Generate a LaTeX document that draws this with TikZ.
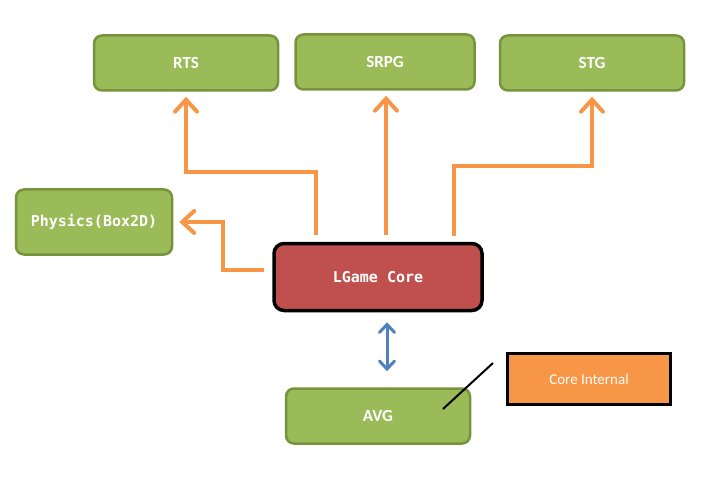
\documentclass[tikz,border=0pt]{standalone}
\usepackage{fontspec}
\setmainfont{Carlito}
\newfontfamily\codefont{DejaVu Sans Mono}
\usetikzlibrary{arrows.meta, calc}
\definecolor{boxgreen}{HTML}{9BBB59}
\definecolor{edgegreen}{HTML}{77933C}
\definecolor{corered}{HTML}{C0504D}
\definecolor{flowor}{HTML}{F79646}
\definecolor{linkblue}{HTML}{4F81BD}

\begin{document}
\begin{tikzpicture}[x=1pt, y=-1pt,
  genre/.style={draw=edgegreen, line width=2.5pt, fill=boxgreen, rounded corners=8pt,
    minimum width=184pt, minimum height=55pt, text=white, font=\bfseries\fontsize{17}{19}\selectfont},
  codebox/.style={genre, font=\codefont\bfseries\fontsize{15}{17}\selectfont},
  corebox/.style={draw=black, line width=3.5pt, fill=corered, rounded corners=10pt,
    minimum width=208pt, minimum height=67pt, text=white, font=\codefont\bfseries\fontsize{15}{17}\selectfont},
  notebox/.style={draw=black, line width=2.5pt, fill=flowor, minimum width=163pt,
    minimum height=51pt, text=white, font=\fontsize{15}{17}\selectfont},
  flow/.style={draw=flowor, line width=4pt, line join=miter,
    -{Straight Barb[length=12pt,width=22pt,line cap=round]}},
  link/.style={draw=linkblue, line width=3pt,
    {Straight Barb[length=8pt,width=15pt,line cap=round]}-{Straight Barb[length=8pt,width=15pt,line cap=round]}}
]
\useasboundingbox (0,0) rectangle (702,484);

\node[genre] (rts) at (186,63) {RTS};
\node[genre, minimum width=179pt] (srpg) at (385,62) {SRPG};
\node[genre] (stg) at (592,63) {STG};
\node[codebox, minimum width=156pt, minimum height=65pt] (phys) at (94,222) {Physics(Box2D)};
\node[corebox] (core) at (378,277) {LGame Core};
\node[genre] (avg) at (378,416) {AVG};
\node[notebox] (ci) at (589,379) {Core Internal};

% arrows out of the core
\draw[flow, shorten <=7pt, shorten >=5pt] ([xshift=-62pt]core.north) -- ++(0,-70) -| (rts.south);
\draw[flow, shorten <=7pt] ([xshift=8pt]core.north) -- ++(0,-146);
\draw[flow, shorten <=6pt, shorten >=5pt] ([xshift=76pt]core.north) -- ++(0,-76) -| (stg.south);
\draw[flow, shorten <=8pt, shorten >=6pt] ([yshift=7pt]core.west) -- ++(-49,0) |- (phys.east);

\draw[link, shorten <=10pt, shorten >=16pt] ([xshift=9pt]core.south) -- ([xshift=9pt]avg.north);

\coordinate (tip) at (443,409);
\draw[line width=2pt] (tip) -- ++(50,-46);
\end{tikzpicture}
\end{document}
